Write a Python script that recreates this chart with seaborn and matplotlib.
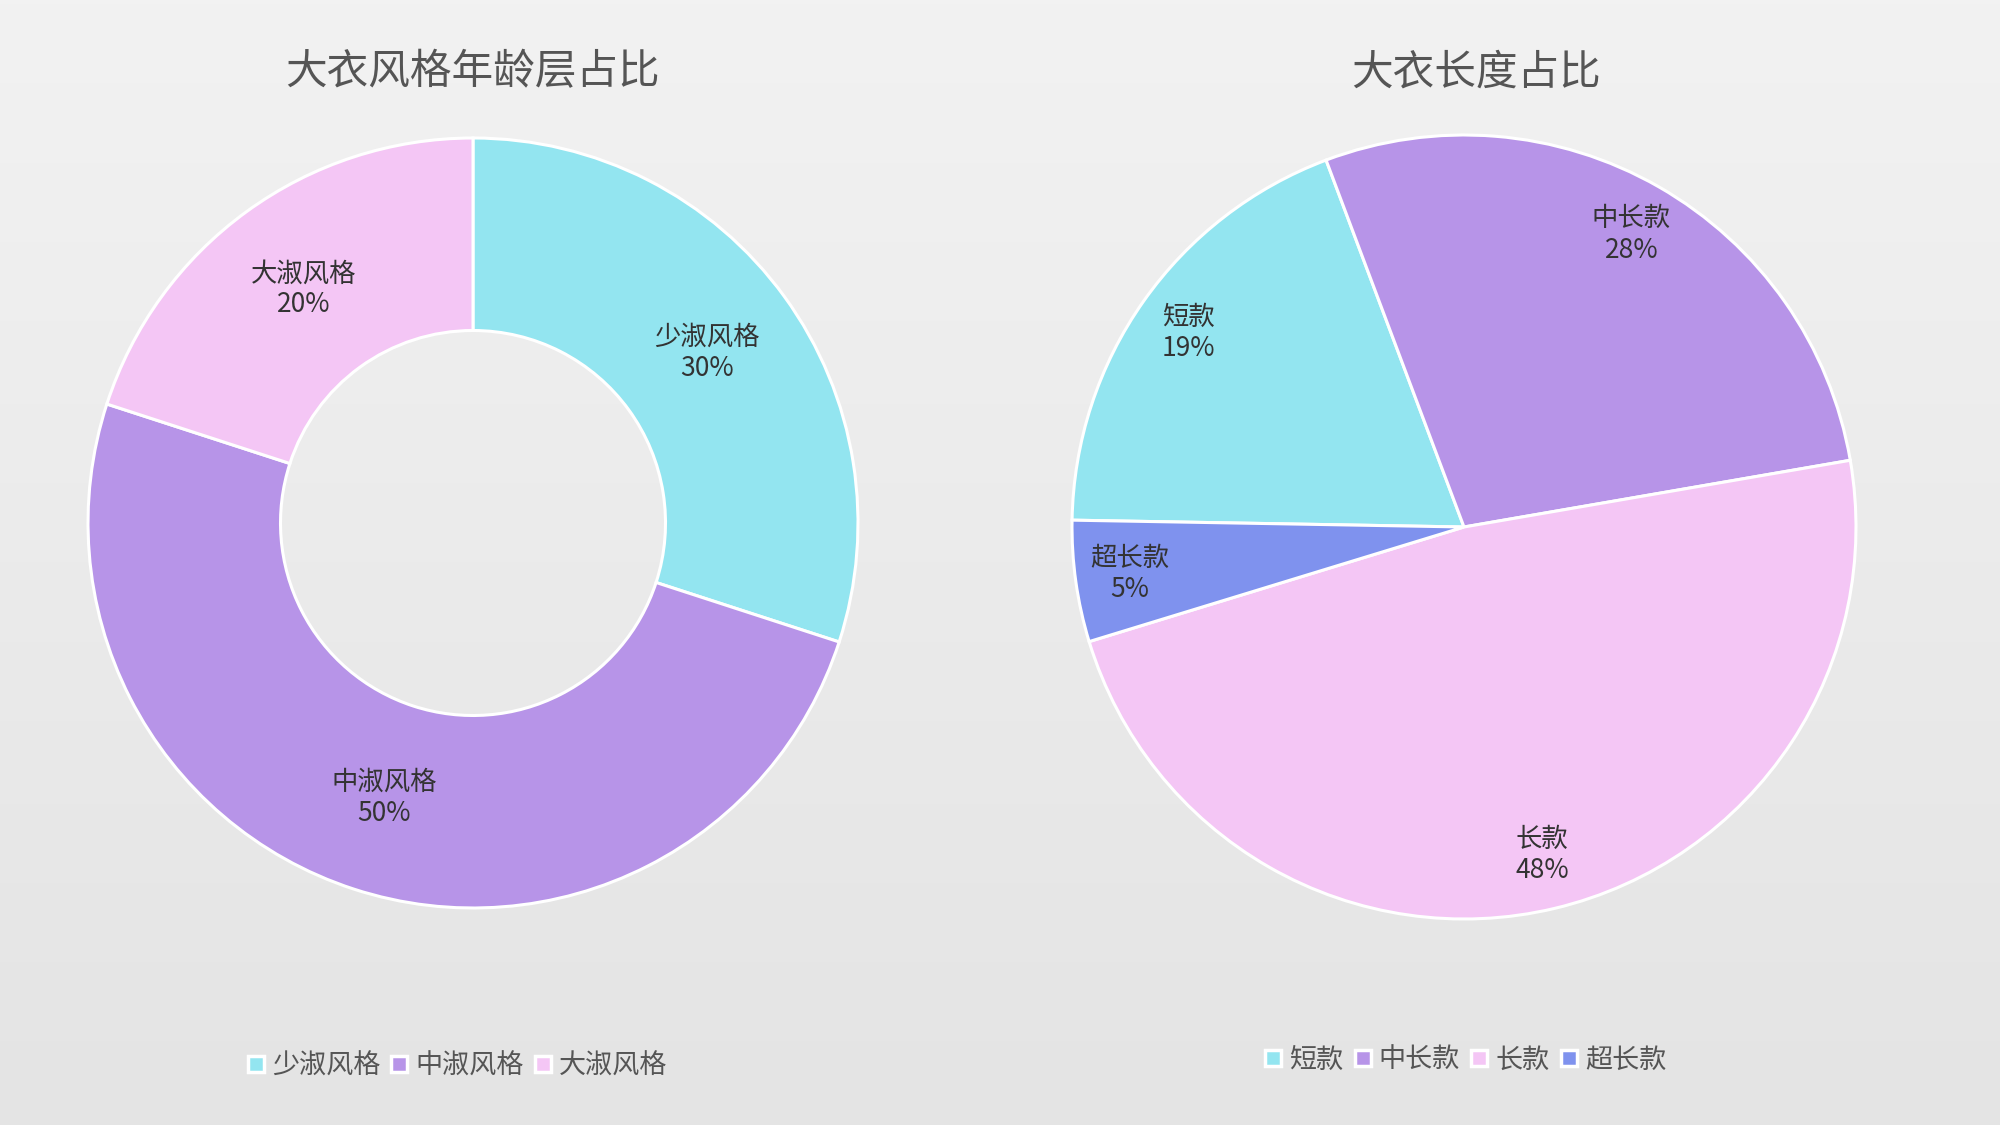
import numpy as np
import seaborn as sns
import matplotlib.pyplot as plt
from matplotlib.lines import Line2D

# data
style_labels = ["少淑风格", "中淑风格", "大淑风格"]
style_values = [30, 50, 20]
length_labels = ["短款", "中长款", "长款", "超长款"]
length_values = [19, 28, 48, 5]

colors = sns.color_palette(["#93E5F0", "#B794E8", "#F4C6F5", "#7F92EE"])

sns.set_style("white")
plt.rcParams['font.family'] = ['Noto Sans CJK SC', 'DejaVu Sans']

W, H = 2000, 1125
fig = plt.figure(figsize=(W / 100, H / 100), dpi=100)

# background gradient
bg = fig.add_axes([0, 0, 1, 1])
grad = np.linspace(0, 1, 256).reshape(-1, 1)
bg.imshow(grad, cmap=sns.blend_palette(["#f2f2f2", "#e4e4e4"], as_cmap=True),
          aspect='auto', extent=[0, 1, 0, 1])
bg.axis('off')


def pie_axes(cx, cy, r):
    ax = fig.add_axes([(cx - r) / W, 1 - (cy + r) / H, 2 * r / W, 2 * r / H])
    return ax


def finish(ax):
    ax.set_xlim(-1, 1)
    ax.set_ylim(-1, 1)
    ax.axis('off')


# left donut
ax1 = pie_axes(473, 523, 385)
wedges, _ = ax1.pie(style_values, colors=colors[:3], startangle=90, counterclock=False,
                    radius=1, wedgeprops=dict(width=0.5, edgecolor='white', linewidth=2.2))
finish(ax1)
for w in wedges:
    w.set_clip_on(False)
total = sum(style_values)
for w, name, v in zip(wedges, style_labels, style_values):
    ang = np.deg2rad((w.theta1 + w.theta2) / 2)
    ax1.text(0.75 * np.cos(ang), 0.75 * np.sin(ang), f"{name}\n{v / total * 100:.0f}%",
             ha='center', va='center', fontsize=19, color='#333333', linespacing=1.2)

# right pie
ax2 = pie_axes(1464, 527, 392)
wedges2, _ = ax2.pie(length_values, colors=colors, startangle=179, counterclock=False,
                     radius=1, wedgeprops=dict(edgecolor='white', linewidth=2.2))
finish(ax2)
for w in wedges2:
    w.set_clip_on(False)
total2 = sum(length_values)
for w, name, v in zip(wedges2, length_labels, length_values):
    ang = np.deg2rad((w.theta1 + w.theta2) / 2)
    ax2.text(0.86 * np.cos(ang), 0.86 * np.sin(ang), f"{name}\n{v / total2 * 100:.0f}%",
             ha='center', va='center', fontsize=19, color='#333333', linespacing=1.2)

# titles
fig.text(473 / W, 1 - 73 / H, "大衣风格年龄层占比", ha='center', va='center',
         fontsize=30, color='#555555')
fig.text(1476 / W, 1 - 73 / H, "大衣长度占比", ha='center', va='center',
         fontsize=30, color='#555555')


def legend(labels, cols, cx, cy):
    handles = [Line2D([], [], marker='s', linestyle='', markersize=11,
                      markerfacecolor=c, markeredgecolor='white', markeredgewidth=2.5)
               for c in cols]
    fig.legend(handles, labels, loc='center', bbox_to_anchor=(cx / W, 1 - cy / H),
               ncol=len(labels), frameon=False, fontsize=19.5, handlelength=0.7,
               handletextpad=0.25, columnspacing=0.35, labelcolor='#555555')


legend(style_labels, colors[:3], 457, 1066)
legend(length_labels, colors, 1465, 1060)

fig.savefig("out.png", dpi=100)
